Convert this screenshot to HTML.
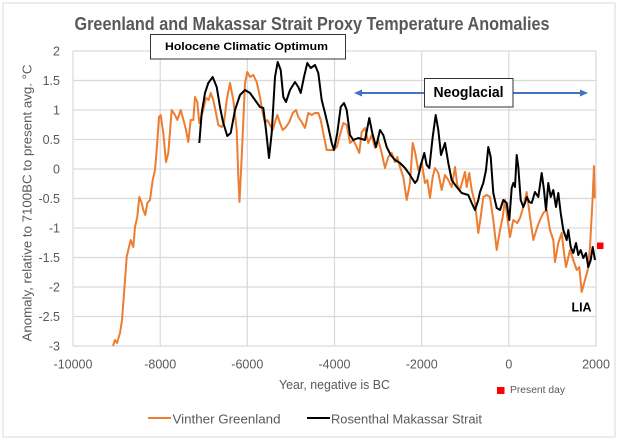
<!DOCTYPE html>
<html><head><meta charset="utf-8"><style>
html,body{margin:0;padding:0;background:#fff;}
svg{display:block;font-family:"Liberation Sans",sans-serif;}
</style></head><body>
<svg width="624" height="439" viewBox="0 0 624 439" xmlns="http://www.w3.org/2000/svg">
<rect x="0" y="0" width="624" height="439" fill="#fff"/>
<rect x="3" y="3" width="612" height="434" fill="#fff" stroke="#d9d9d9" stroke-width="1"/>
<!-- gridlines -->
<g stroke="#d9d9d9" stroke-width="1.2">
<line x1="73" y1="51" x2="596" y2="51"/>
<line x1="73" y1="80.5" x2="596" y2="80.5"/>
<line x1="73" y1="110" x2="596" y2="110"/>
<line x1="73" y1="139.5" x2="596" y2="139.5"/>
<line x1="73" y1="169" x2="596" y2="169"/>
<line x1="73" y1="198.5" x2="596" y2="198.5"/>
<line x1="73" y1="228" x2="596" y2="228"/>
<line x1="73" y1="257.5" x2="596" y2="257.5"/>
<line x1="73" y1="287" x2="596" y2="287"/>
<line x1="73" y1="316.5" x2="596" y2="316.5"/>
<line x1="73" y1="346" x2="596" y2="346"/>
<line x1="73" y1="51" x2="73" y2="346"/>
<line x1="160.2" y1="51" x2="160.2" y2="346"/>
<line x1="247.3" y1="51" x2="247.3" y2="346"/>
<line x1="334.5" y1="51" x2="334.5" y2="346"/>
<line x1="421.7" y1="51" x2="421.7" y2="346"/>
<line x1="508.8" y1="51" x2="508.8" y2="346"/>
<line x1="596" y1="51" x2="596" y2="346"/>
</g>
<!-- title -->
<text x="312" y="30" text-anchor="middle" font-size="18" font-weight="bold" fill="#595959" textLength="475" lengthAdjust="spacingAndGlyphs">Greenland and Makassar Strait Proxy Temperature Anomalies</text>
<!-- y tick labels -->
<g font-size="12.5" fill="#595959" text-anchor="end">
<text x="60" y="55.5">2</text>
<text x="60" y="85">1.5</text>
<text x="60" y="114.5">1</text>
<text x="60" y="144">0.5</text>
<text x="60" y="173.5">0</text>
<text x="60" y="203">-0.5</text>
<text x="60" y="232.5">-1</text>
<text x="60" y="262">-1.5</text>
<text x="60" y="291.5">-2</text>
<text x="60" y="321">-2.5</text>
<text x="60" y="350.5">-3</text>
</g>
<!-- x tick labels -->
<g font-size="12.5" fill="#595959" text-anchor="middle">
<text x="73" y="368.5">-10000</text>
<text x="160.2" y="368.5">-8000</text>
<text x="247.3" y="368.5">-6000</text>
<text x="334.5" y="368.5">-4000</text>
<text x="421.7" y="368.5">-2000</text>
<text x="508.8" y="368.5">0</text>
<text x="596" y="368.5">2000</text>
</g>
<text x="279" y="389" font-size="13" fill="#595959" textLength="111" lengthAdjust="spacingAndGlyphs">Year, negative is BC</text>
<text transform="translate(31.5,203) rotate(-90)" text-anchor="middle" font-size="13" fill="#595959" textLength="277" lengthAdjust="spacingAndGlyphs">Anomaly,  relative to 7100BC to present avg. °C</text>
<!-- orange series -->
<polyline fill="none" stroke="#ED7D31" stroke-width="2" stroke-linejoin="round" points="113,346 115,340 117,343 120,333 122,320 123.3,303 125,280 126.7,257 128.3,250 130.7,240 133.3,247 135,227 137.3,217 139.3,197 141.7,203 143.3,210 145.3,215 147.3,203 150,200 152.7,180 155,170 156.7,150 159,117 160.7,115 163.3,133 166,162 168.3,153 171.7,110 175,115 177.3,120 180.7,110 184,122 186,130 188.3,142 190.7,120 193.3,120 195,97 197.3,102 199.3,123 202.7,112 206,98 208.7,100 210.7,93 213.3,100 216,113 218.3,125 221.7,127 224,123 226.7,100 230,83 233.3,100 236.7,130 238.3,177 239.5,202 241.7,157 245,83 247.3,72 250,77 253.3,75 256.7,82 260,97 262.7,113 265,123 267.3,120 270,125 272.7,130 275,122 277.3,115 280,123 282.7,130 286,127 289.3,122 292.7,113 296,110 298.3,117 301.7,122 305,128 308.3,113 311.7,115 315,113 318.3,113 320.7,120 323.3,133 326.7,150 330,150 333.3,150 336.7,147 340,135 343.3,123 346.7,125 350,143 353.3,140 356.7,147 359.3,153 361.7,132 365,128 368.3,143 371.7,135 375,148 378.3,140 381.7,153 385,168 388.3,157 391.7,153 395,162 397.3,157 400,167 403.3,177 406.7,200 410,183 412.7,143 415,152 418.3,170 421.7,162 425,183 427.3,180 430,198 432.7,177 435,168 438.3,173 441.7,190 445,175 448.3,180 451.7,187 455,167 457.3,185 460,190 462.7,180 465,172 466.7,187 469.3,173 471.7,190 475,203 478.3,233 480.7,217 483.3,197 486.7,195 490,197 493.3,220 496.7,250 500,230 502.7,217 505,200 507.3,217 510,237 513.3,220 517.3,223 520,218 523.3,207 526.7,192 530,217 533.3,240 537.3,227 540,220 543.3,213 546.7,210 550,230 553.3,240 555,262 558.3,243 561.7,233 564,253 566,267 570,250 573.3,260 576.7,270 579.3,267 581.7,292 585,280 587.7,270 590,247 592.7,197 594,166 594.7,198"/>
<!-- black series -->
<polyline fill="none" stroke="#000" stroke-width="2" stroke-linejoin="round" points="199.3,143 201.7,113 205,93 208.3,83 212.7,77 216.7,87 220,107 223,122 227.3,136 230.7,133 235,110 240,95 245,90 250,93 255,100 260,107 263.3,108 266,130 269,158 271.7,133 275,77 277.7,62 280.7,70 283.3,97 286,102 290,90 295,82 298.3,87 300.7,93 304,77 307.3,63 310.7,68 315,65 318.3,73 321.7,100 325,113 328.3,127 331.7,143 334,150 337.3,133 340.7,107 344,103 346.7,110 350,135 353.3,140 358.3,138 365,140 369.3,118 372.3,133 376,147 380,130 383.3,135 386.7,147 390.7,155 395,160 400,163 405,168 410,175 415,183 417.3,180 421.7,162 424.3,153 426.7,165 429.3,168 432.7,137 435.7,115 438.3,130 441,155 445,143 448.3,163 451.7,180 456.7,187 461.7,193 468.3,195 471.7,203 475,210 478.3,200 480,192 483.3,183 486,170 488.3,147 490.7,157 493.3,193 496.7,208 500,210 503.3,200 506.7,203 509.3,220 511.7,188 513.3,183 515,187 516.7,155 518.3,167 520.7,200 523.3,207 525,203 526.7,197 529.3,202 531.7,203 535,192 538.3,197 541.7,173 544,190 546,210 548.3,183 550.7,197 553.3,190 556,207 558.3,193 560.7,213 563.3,230 566.7,240 568.3,230 570.7,247 573.3,253 576,243 578.3,255 580.7,250 583.3,258 586,253 588.3,267 590.7,260 592.7,247 595,260"/>
<!-- present day marker -->
<rect x="597" y="242.5" width="6.5" height="6.5" fill="#FF0000"/>
<!-- LIA -->
<text x="571.5" y="311.5" font-size="13" font-weight="bold" fill="#000" textLength="20" lengthAdjust="spacingAndGlyphs">LIA</text>
<!-- Holocene box -->
<rect x="150.5" y="34.5" width="195" height="24.5" fill="#fff" stroke="#333" stroke-width="1"/>
<text x="165" y="50" font-size="11" font-weight="bold" fill="#000" textLength="163" lengthAdjust="spacingAndGlyphs">Holocene Climatic Optimum</text>
<!-- Neoglacial arrows -->
<g stroke="#4472C4" stroke-width="2" fill="#4472C4">
<line x1="360" y1="93" x2="424" y2="93"/>
<line x1="513" y1="93" x2="582" y2="93"/>
</g>
<polygon points="354,93 362,89.5 362,96.5" fill="#4472C4"/>
<polygon points="588,93 580,89.5 580,96.5" fill="#4472C4"/>
<rect x="424.5" y="78.5" width="88.5" height="28.5" fill="#fff" stroke="#333" stroke-width="1"/>
<text x="433.5" y="97" font-size="14.5" font-weight="bold" fill="#000" textLength="70" lengthAdjust="spacingAndGlyphs">Neoglacial</text>
<!-- present day legend -->
<rect x="497" y="387" width="7.5" height="7" fill="#FF0000"/>
<text x="510" y="393" font-size="10" fill="#595959" textLength="55" lengthAdjust="spacingAndGlyphs">Present day</text>
<!-- legend -->
<line x1="148" y1="418" x2="171" y2="418" stroke="#ED7D31" stroke-width="2"/>
<text x="172.5" y="423.3" font-size="12.5" fill="#595959" textLength="108" lengthAdjust="spacingAndGlyphs">Vinther Greenland</text>
<line x1="307" y1="418" x2="330" y2="418" stroke="#000" stroke-width="2"/>
<text x="331" y="423.3" font-size="12.5" fill="#595959" textLength="151" lengthAdjust="spacingAndGlyphs">Rosenthal Makassar Strait</text>
</svg>
</body></html>
